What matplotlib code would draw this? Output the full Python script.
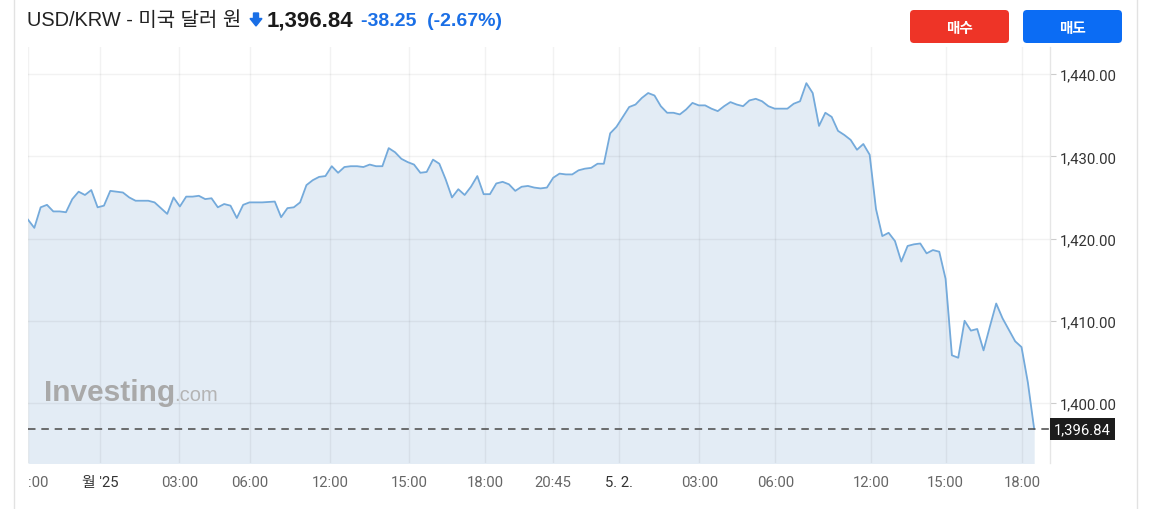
import matplotlib
matplotlib.use("Agg")
import matplotlib.pyplot as plt
import matplotlib.transforms as mtransforms
import numpy as np
from matplotlib.patches import FancyBboxPatch, Polygon
from matplotlib.ticker import FuncFormatter

# ---------------- data ----------------
values = [
    1422.3, 1421.3, 1423.8, 1424.1, 1423.3, 1423.3, 1423.2, 1424.8, 1425.7, 1425.3,
    1425.9, 1423.8, 1424.0, 1425.8, 1425.7, 1425.6, 1425.0, 1424.6, 1424.6, 1424.6,
    1424.4, 1423.7, 1423.0, 1425.0, 1423.9, 1425.1, 1425.1, 1425.2, 1424.8, 1424.9,
    1423.8, 1424.2, 1424.0, 1422.5, 1424.1, 1424.4, 1424.4, 1424.4, 1424.45, 1424.5,
    1422.6, 1423.7, 1423.8, 1424.4, 1426.5, 1427.1, 1427.5, 1427.6, 1428.8, 1428.0,
    1428.7, 1428.8, 1428.8, 1428.7, 1429.0, 1428.8, 1428.8, 1431.0, 1430.5, 1429.7,
    1429.3, 1429.0, 1428.0, 1428.1, 1429.6, 1429.1, 1427.2, 1425.0, 1426.0, 1425.3,
    1426.3, 1427.6, 1425.4, 1425.4, 1426.7, 1426.9, 1426.6, 1425.8, 1426.3, 1426.4,
    1426.2, 1426.1, 1426.2, 1427.4, 1427.9, 1427.8, 1427.8, 1428.3, 1428.5, 1428.6,
    1429.1, 1429.1, 1432.8, 1433.6, 1434.8, 1436.0, 1436.3, 1437.1, 1437.7, 1437.4,
    1436.1, 1435.3, 1435.3, 1435.1, 1435.7, 1436.5, 1436.2, 1436.2, 1435.8, 1435.5,
    1436.1, 1436.6, 1436.3, 1436.1, 1436.8, 1437.0, 1436.7, 1436.1, 1435.8, 1435.8,
    1435.8, 1436.4, 1436.7, 1438.9, 1437.7, 1433.7, 1435.3, 1434.8, 1433.1, 1432.6,
    1432.0, 1430.8, 1431.5, 1430.2, 1423.6, 1420.3, 1420.7, 1419.7, 1417.2, 1419.1,
    1419.3, 1419.4, 1418.2, 1418.6, 1418.4, 1415.1, 1405.8, 1405.5, 1410.0, 1408.8,
    1409.0, 1406.4, 1409.3, 1412.1, 1410.3, 1408.9, 1407.5, 1406.8, 1402.5, 1396.84,
]
x_tick_pos = [0, 11.4, 23.9, 35.1, 47.8, 60.2, 72.2, 83.0, 93.4, 106.1, 118.1, 133.2, 145.0, 157.1]
x_tick_labels = [":00", "월 '25", "03:00", "06:00", "12:00", "15:00", "18:00", "20:45",
                 "5. 2.", "03:00", "06:00", "12:00", "15:00", "18:00"]
date_labels = {"월 '25", "5. 2."}
y_ticks = [1400, 1410, 1420, 1430, 1440]
title_pair = "USD/KRW - 미국 달러 원"
change = -38.25
change_pct = -2.67

# ---------------- style ----------------
W, H = 1149, 510
plt.rcParams['font.family'] = ['Roboto', 'Noto Sans CJK KR', 'DejaVu Sans']
LINE = '#74aadb'
FILL = '#e3ecf5'

fig = plt.figure(figsize=(W / 100, H / 100), dpi=100)
fig.patch.set_facecolor('white')

L, R, T, B = 28, 1050, 48, 464
ax = fig.add_axes([L / W, 1 - B / H, (R - L) / W, (B - T) / H])
ax.set_facecolor('white')

xs = np.arange(len(values))
ax.fill_between(xs, values, 1380, color=FILL, lw=0, zorder=1)
ax.plot(xs, values, color=LINE, lw=1.3, zorder=3)
ax.axhline(values[-1], color='#555555', lw=1.2, ls=(0, (4.5, 3.5)), zorder=4)

ax.set_xlim(0, 161.5)
ax.set_ylim(1392.7, 1443.3)

ax.set_yticks(y_ticks)
ax.yaxis.tick_right()
ax.yaxis.set_major_formatter(FuncFormatter(lambda v, p: f"{v:,.2f}"))
ax.tick_params(axis='y', length=4, width=0.8, color='#cccccc', pad=3,
               labelsize=10.7, labelcolor='#333333')
ax.set_xticks(x_tick_pos)
ax.set_xticklabels(x_tick_labels)
ax.tick_params(axis='x', length=0, pad=9, labelsize=10.7, labelcolor='#666666')
xlabs = ax.get_xticklabels()
for lab in xlabs:
    if lab.get_text() in date_labels:
        lab.set_color('#333333')
xlabs[0].set_horizontalalignment('left')

ax.grid(True, color='#000000', alpha=0.05, lw=1, zorder=2)
ax.set_axisbelow('line')
for s in ['top', 'left', 'bottom']:
    ax.spines[s].set_visible(False)
ax.spines['right'].set_color('#e6e6e6')
ax.spines['right'].set_linewidth(1)

# last price tag
tag_tr = mtransforms.offset_copy(ax.get_yaxis_transform(), fig=fig, x=4, y=0, units='dots')
ax.text(1.0, values[-1], f"{values[-1]:,.2f}", transform=tag_tr,
        ha='left', va='center', color='white', fontsize=10.7, zorder=6,
        bbox=dict(boxstyle='square,pad=0.3', facecolor='#1c1c1c', edgecolor='none'),
        clip_on=False)

# watermark
ax.text(0.016, 0.151, "Investing", transform=ax.transAxes, fontsize=21.5,
        fontweight='bold', color='#a9a9a9', family=['Liberation Sans'], zorder=2.5)
ax.text(0.143, 0.151, ".com", transform=ax.transAxes, fontsize=14.5,
        color='#b4b4b4', family=['Liberation Sans'], zorder=2.5)

# ---------------- overlay (pixel coords) ----------------
ov = fig.add_axes([0, 0, 1, 1])
ov.set_xlim(0, W)
ov.set_ylim(H, 0)
ov.axis('off')
ov.patch.set_alpha(0)

ov.plot([14, 14], [0, H], color='#e2e2e2', lw=1)
ov.plot([1137, 1137], [0, H], color='#e2e2e2', lw=1)

tfam = ['Liberation Sans', 'Noto Sans CJK KR']
ov.text(27, 21, title_pair, fontsize=14.4, color='#222222', va='center', ha='left', family=tfam)
ov.add_patch(Polygon([[253.5, 14], [258.5, 14], [258.5, 19.5], [262, 19.5], [256, 27],
                      [250, 19.5], [253.5, 19.5]], closed=True, color='#1a6fe6'))
ov.text(267, 21, f"{values[-1]:,.2f}", fontsize=16, fontweight='bold', color='#1a1a1a',
        va='center', ha='left', family=tfam)
ov.text(361, 21, f"{change:.2f}  ({change_pct:.2f}%)", fontsize=14, fontweight='bold',
        color='#1a6fe6', va='center', ha='left', family=tfam)

for x0, col, lab in [(910, '#ee3427', '매수'), (1023, '#0b6cf4', '매도')]:
    ov.add_patch(FancyBboxPatch((x0 + 3, 14), 93, 27, boxstyle='round,pad=3,rounding_size=4',
                                facecolor=col, edgecolor='none'))
    ov.text(x0 + 49.5, 28, lab, fontsize=10.5, fontweight='bold', color='white',
            ha='center', va='center', family=['Noto Sans CJK KR'])

fig.savefig('out.png', dpi=100, facecolor='white')
